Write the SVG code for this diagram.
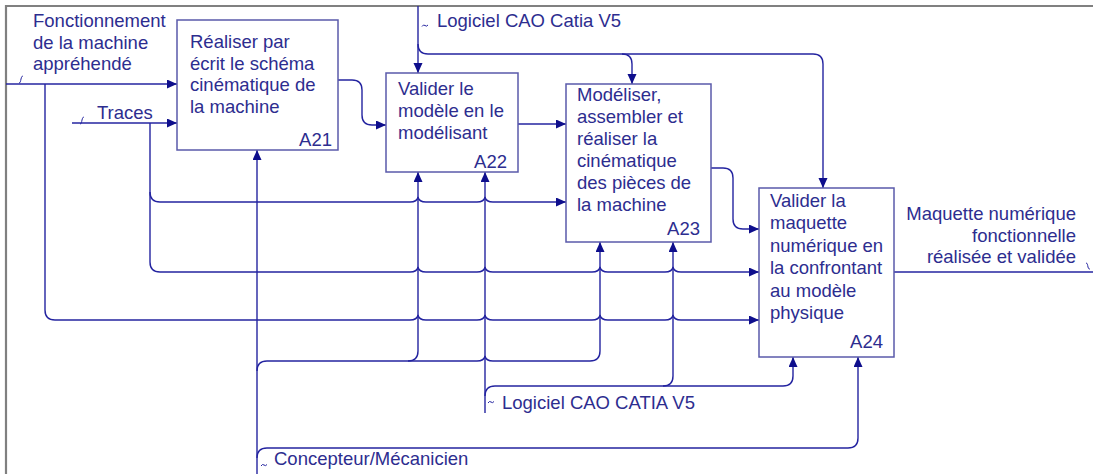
<svg xmlns="http://www.w3.org/2000/svg" width="1093" height="474" viewBox="0 0 1093 474">
<style>
  text { font-family: "Liberation Sans", Arial, sans-serif; font-size: 18.5px; fill: #2d2d8f; }
  .end { text-anchor: end; }
  .box { fill: #ffffff; stroke: #5a5aaa; stroke-width: 1.5; }
  .c { fill: none; stroke: #2424a0; stroke-width: 1.4; }
  .arr { fill: none; stroke: #2424a0; stroke-width: 1.4; marker-end: url(#ah); }
  .sq { fill: none; stroke: #2424a0; stroke-width: 1; }
  .frame { stroke: #808080; stroke-width: 2.2; fill: none; }
</style>
<defs>
  <marker id="ah" markerUnits="userSpaceOnUse" markerWidth="11" markerHeight="10" refX="10" refY="4.5" orient="auto">
    <path d="M0,0 L10,4.5 L0,9 Z" fill="#0e0e8c"/>
  </marker>
</defs>
<rect x="0" y="0" width="1093" height="474" fill="#ffffff"/>
<path class="frame" d="M6,474 V6 H1093"/>

<g id="connectors">
  <!-- Fonctionnement de la machine appréhendé -->
  <path class="arr" d="M6,84 H177"/>
  <path class="arr" d="M45,84 V310 Q45,320 55,320 H410 Q417,320 418,315 Q419,320 426,320 H477 Q484,320 485,315 Q486,320 493,320 H592 Q599,320 600,315 Q601,320 608,320 H665 Q672,320 673,315 Q674,320 681,320 H759"/>
  <!-- Traces -->
  <path class="arr" d="M72,123 H177"/>
  <path class="arr" d="M150,123 V192 Q150,202 160,202 H410 Q417,202 418,197 Q419,202 426,202 H477 Q484,202 485,197 Q486,202 493,202 H566"/>
  <path class="arr" d="M150,192 V262 Q150,272 160,272 H410 Q417,272 418,267 Q419,272 426,272 H477 Q484,272 485,267 Q486,272 493,272 H592 Q599,272 600,267 Q601,272 608,272 H665 Q672,272 673,267 Q674,272 681,272 H759"/>
  <!-- Logiciel CAO Catia V5 (top) -->
  <path class="arr" d="M418,6 V73"/>
  <path class="arr" d="M418,44 Q418,54 428,54 H622 Q632,54 632,64 V84"/>
  <path class="arr" d="M622,54 H813 Q823,54 823,64 V188"/>
  <!-- Internal flows -->
  <path class="arr" d="M338,80 H352 Q362,80 362,90 V115 Q362,125 372,125 H386"/>
  <path class="arr" d="M518,124 H566"/>
  <path class="arr" d="M711,168 H723 Q733,168 733,178 V219 Q733,229 743,229 H759"/>
  <path class="c" d="M894,272 H1093"/>
  <!-- Concepteur/Mécanicien -->
  <path class="arr" d="M257,474 V150"/>
  <path class="arr" d="M257,371 Q257,361 267,361 H408 Q418,361 418,351 V172"/>
  <path class="arr" d="M408,361 H477 Q484,361 485,356 Q486,361 493,361 H590 Q600,361 600,351 V242"/>
  <path class="arr" d="M257,458 Q257,448 267,448 H848 Q858,448 858,438 V357"/>
  <!-- Logiciel CAO CATIA V5 (bottom) -->
  <path class="arr" d="M485,413 V172"/>
  <path class="arr" d="M485,396 Q485,386 495,386 H663 Q673,386 673,376 V242"/>
  <path class="arr" d="M663,386 H783 Q793,386 793,376 V357"/>
  <!-- label squiggles -->
  <path class="sq" d="M19,83 C20.5,83 20.5,81 21,79 S22,76 23,76"/>
  <path class="sq" d="M80,124 C81.5,124 81.5,122 82,120 S83,117 84,117"/>
  <path class="sq" d="M422,26.5 Q423.5,24 425,25.5 T428,25"/>
  <path class="sq" d="M488,403 Q489.5,400.5 491,402 T494,401.5"/>
  <path class="sq" d="M261,466 Q262.5,463.5 264,465 T267,464.5"/>
  <path class="sq" d="M1086,263 C1087.5,263 1087.5,265 1088,267 S1089,269 1090,269"/>
</g>

<g id="label-fonctionnement">
  <text x="33" y="27">Fonctionnement</text>
  <text x="33" y="48.5">de la machine</text>
  <text x="33" y="70">appréhendé</text>
</g>
<g id="label-traces"><text x="97" y="119">Traces</text></g>
<g id="label-cao-top"><text x="437" y="27">Logiciel CAO Catia V5</text></g>
<g id="label-cao-bottom"><text x="502" y="409">Logiciel CAO CATIA V5</text></g>
<g id="label-concepteur"><text x="274" y="465">Concepteur/Mécanicien</text></g>
<g id="label-output">
  <text class="end" x="1076" y="220">Maquette numérique</text>
  <text class="end" x="1076" y="241.5">fonctionnelle</text>
  <text class="end" x="1076" y="263">réalisée et validée</text>
</g>

<g id="A21">
  <rect class="box" x="177" y="20" width="161" height="130"/>
  <text x="190" y="48">Réaliser par</text>
  <text x="190" y="69.5">écrit le schéma</text>
  <text x="190" y="91">cinématique de</text>
  <text x="190" y="112.5">la machine</text>
  <text class="end" x="332" y="146">A21</text>
</g>
<g id="A22">
  <rect class="box" x="386" y="73" width="132" height="99"/>
  <text x="398" y="95">Valider le</text>
  <text x="398" y="117">modèle en le</text>
  <text x="398" y="139">modélisant</text>
  <text class="end" x="507" y="167.5">A22</text>
</g>
<g id="A23">
  <rect class="box" x="566" y="84" width="145" height="158"/>
  <text x="577" y="100.5">Modéliser,</text>
  <text x="577" y="122.5">assembler et</text>
  <text x="577" y="144.5">réaliser la</text>
  <text x="577" y="166.5">cinématique</text>
  <text x="577" y="188.5">des pièces de</text>
  <text x="577" y="211">la machine</text>
  <text class="end" x="700" y="235">A23</text>
</g>
<g id="A24">
  <rect class="box" x="759" y="188" width="135" height="169"/>
  <text x="770" y="206.5">Valider la</text>
  <text x="770" y="229">maquette</text>
  <text x="770" y="251.5">numérique en</text>
  <text x="770" y="274">la confrontant</text>
  <text x="770" y="296.5">au modèle</text>
  <text x="770" y="318.5">physique</text>
  <text class="end" x="883" y="348">A24</text>
</g>
</svg>
